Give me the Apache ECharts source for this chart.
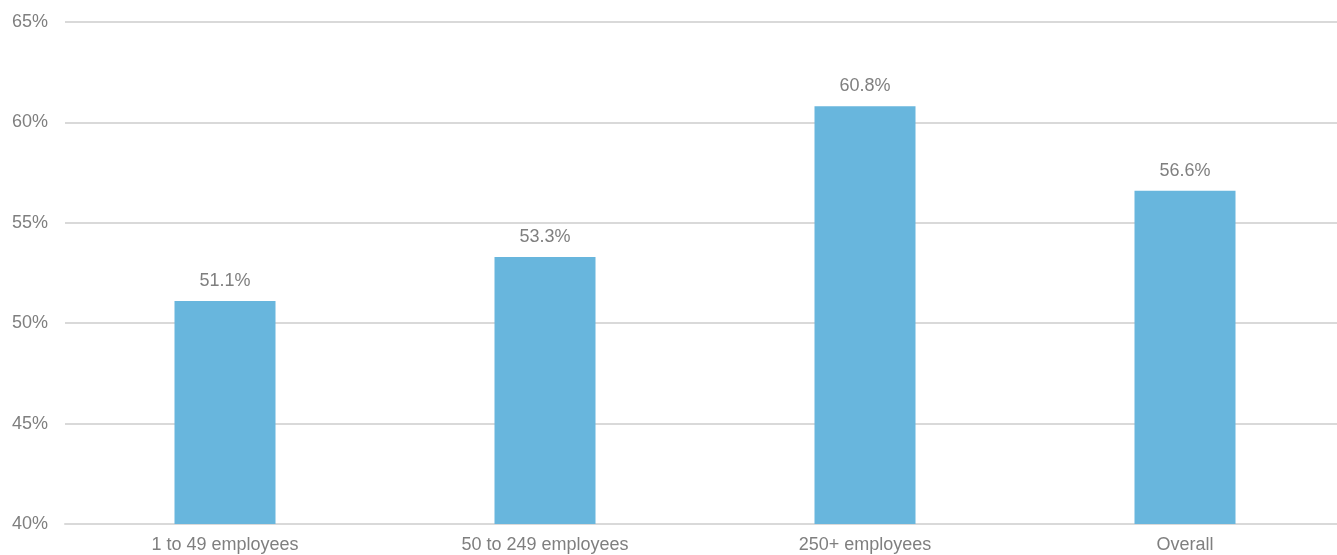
<!DOCTYPE html>
<html>
<head>
<meta charset="utf-8">
<script src="https://cdn.jsdelivr.net/npm/echarts@6/dist/echarts.min.js"></script>
<style>
html,body{margin:0;padding:0;background:#fff;overflow:hidden;}
#c{width:1345px;height:555px;}
</style>
</head>
<body>
<div id="c"></div>
<script>
const categories = ["1 to 49 employees", "50 to 249 employees", "250+ employees", "Overall"];
const values = [51.1, 53.3, 60.8, 56.6];
const yTicks = { min: 40, max: 65, interval: 5 };

const font = 'Liberation Sans, Arial, Helvetica, sans-serif';
const chart = echarts.init(document.getElementById('c'));
chart.setOption({
  animation: false,
  grid: { left: 65, top: 22, bottom: 31, right: 0 },
  xAxis: {
    type: 'category',
    data: categories,
    axisTick: { show: false },
    axisLine: { lineStyle: { color: '#d9d9d9', width: 2 } },
    axisLabel: { color: '#7f7f7f', fontSize: 18, fontFamily: font, margin: 12 }
  },
  yAxis: {
    type: 'value',
    min: yTicks.min, max: yTicks.max, interval: yTicks.interval,
    axisLine: { show: false },
    axisTick: { show: false },
    splitLine: { lineStyle: { color: '#d9d9d9', width: 2 } },
    axisLabel: { color: '#7f7f7f', fontSize: 18, fontFamily: font, margin: 17, formatter: v => v + '%' }
  },
  series: [{
    type: 'bar',
    data: values,
    barWidth: 101,
    itemStyle: { color: '#68b6dd' },
    label: { show: true, position: 'top', distance: 11, color: '#7f7f7f', fontSize: 18, fontFamily: font, formatter: p => p.value.toFixed(1) + '%' }
  }]
});
</script>
</body>
</html>
